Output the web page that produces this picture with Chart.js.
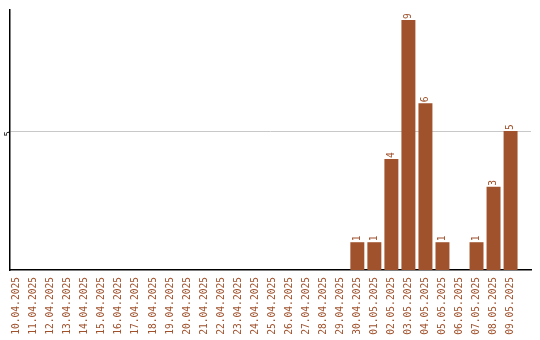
<!DOCTYPE html>
<html>
<head>
<meta charset="utf-8">
<script src="https://cdn.jsdelivr.net/npm/chart.js@4"></script>
<style>
  html, body { margin: 0; padding: 0; background: #fff; }
  #wrap { width: 540px; height: 340px; }
</style>
</head>
<body>
<div id="wrap"><canvas id="c"></canvas></div>
<script>
const dates = ['10.04.2025', '11.04.2025', '12.04.2025', '13.04.2025', '14.04.2025',
    '15.04.2025', '16.04.2025', '17.04.2025', '18.04.2025', '19.04.2025',
    '20.04.2025', '21.04.2025', '22.04.2025', '23.04.2025', '24.04.2025',
    '25.04.2025', '26.04.2025', '27.04.2025', '28.04.2025', '29.04.2025',
    '30.04.2025', '01.05.2025', '02.05.2025', '03.05.2025', '04.05.2025',
    '05.05.2025', '06.05.2025', '07.05.2025', '08.05.2025', '09.05.2025'];
const counts = [0, 0, 0, 0, 0, 0, 0, 0, 0, 0,
    0, 0, 0, 0, 0, 0, 0, 0, 0, 0,
    1, 1, 4, 9, 6, 1, 0, 1, 3, 5];
const yTicks = [5];

const brown = '#A0522D';
const font = { family: 'DejaVu Sans Mono', size: 9.6 };

// value labels above each bar, rotated like the axis labels
const valueLabels = {
    id: 'valueLabels',
    afterDatasetsDraw(chart) {
        const ctx = chart.ctx;
        const meta = chart.getDatasetMeta(0);
        ctx.save();
        ctx.fillStyle = brown;
        ctx.font = font.size + 'px ' + font.family;
        ctx.textAlign = 'left';
        ctx.textBaseline = 'middle';
        meta.data.forEach((bar, i) => {
            if (!counts[i]) return;
            ctx.save();
            ctx.translate(bar.x, bar.y - 1);
            ctx.rotate(-Math.PI / 2);
            ctx.fillText(String(counts[i]), 0, 0);
            ctx.restore();
        });
        ctx.restore();
    }
};

new Chart(document.getElementById('c'), {
    type: 'bar',
    data: {
        datasets: [{
            data: dates.map((d, i) => ({ x: i, y: counts[i] })),
            backgroundColor: brown,
            categoryPercentage: 1,
            barPercentage: 0.82
        }]
    },
    options: {
        responsive: true,
        maintainAspectRatio: false,
        animation: false,
        layout: { padding: { top: 10, right: 9, left: 0, bottom: 0 } },
        plugins: { legend: { display: false }, tooltip: { enabled: false } },
        scales: {
            x: {
                type: 'linear',
                offset: false,
                min: -0.4,
                max: 30.2,
                afterBuildTicks: s => { s.ticks = dates.map((d, i) => ({ value: i })); },
                afterFit: s => { s.height = 70; },
                grid: { display: false, drawTicks: false, offset: false },
                border: { color: '#000', width: 1.5 },
                ticks: {
                    color: brown,
                    font: font,
                    padding: 7,
                    autoSkip: false,
                    minRotation: 90,
                    maxRotation: 90,
                    callback: v => dates[v]
                }
            },
            y: {
                min: 0,
                max: 9.36,
                afterBuildTicks: s => { s.ticks = yTicks.map(v => ({ value: v })); },
                afterFit: s => { s.width = 10; },
                grid: { color: '#c8c8c8', drawTicks: false },
                border: { color: '#000', width: 1.5 },
                ticks: {
                    color: '#000',
                    font: { family: 'DejaVu Sans Mono', size: 9 },
                    padding: 1,
                    minRotation: 90,
                    maxRotation: 90
                }
            }
        }
    },
    plugins: [valueLabels]
});
</script>
</body>
</html>
